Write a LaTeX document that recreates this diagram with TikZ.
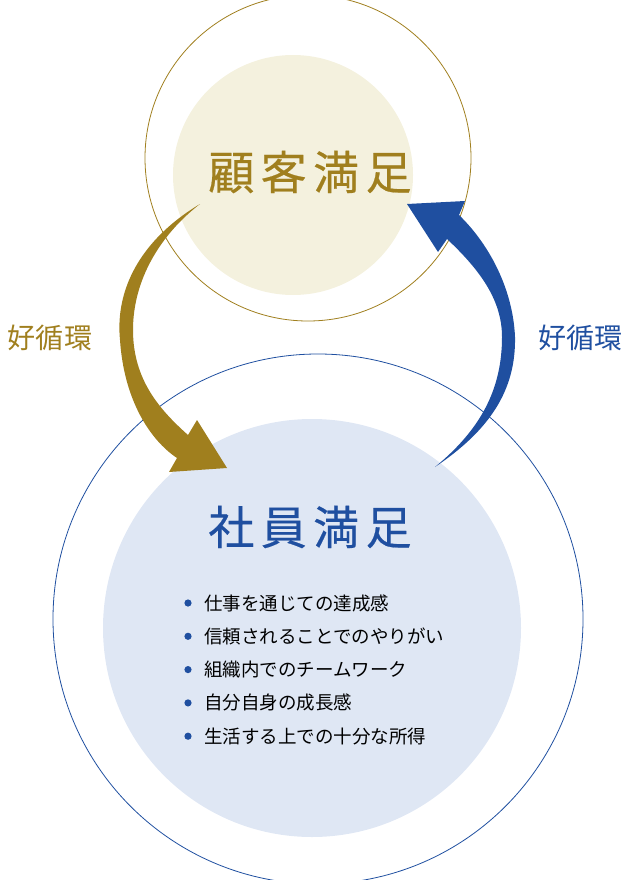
\documentclass[tikz,border=0pt]{standalone}
\usepackage{fontspec}
\setmainfont{Noto Sans CJK JP}
\newfontfamily\titlefont[LetterSpace=14, FakeBold=0.4]{Noto Sans CJK JP}
\usetikzlibrary{calc}
\definecolor{gold}{HTML}{A07F1E}
\definecolor{navy}{HTML}{1F4FA0}
\definecolor{cream}{HTML}{F4F1DE}
\definecolor{pale}{HTML}{DFE7F4}
\tikzset{title/.style={font=\fontsize{46}{46}\titlefont}}
\tikzset{cycle/.style={font=\fontsize{28}{28}\selectfont}}
\tikzset{item/.style={font=\fontsize{18.5}{18.5}\selectfont, anchor=west, inner sep=0pt}}

\begin{document}
\begin{tikzpicture}[x=1pt,y=-1pt]
        \useasboundingbox (0,0) rectangle (631,880);
        % circles
        \fill [pale] (312,628) circle (209);
        \draw [navy, line width=0.8pt] (318,619) circle (265);
        \fill [cream] (293,175) circle (120);
        \draw [gold, line width=0.8pt] (308,158) circle (163);
        % titles
        \node [title, gold] (kokyaku) at (310,172) {顧客満足};
        \node [title, navy] (shain) at (310,527) {社員満足};
        \node [cycle, gold] (left) at (50,338) {好循環};
        \node [cycle, navy] (right) at (580,338) {好循環};
        % arrows
        \fill [gold] (200,204) .. controls (140,240) and (115,290) .. (120,340)
          .. controls (124,400) and (150,440) .. (177,458) -- (169,472) -- (227,468)
          -- (197,420) -- (188,435) .. controls (160,410) and (133,380) .. (133,330)
          .. controls (133,280) and (160,235) .. (200,204) -- cycle;
        \fill [navy] (435,467) .. controls (490,430) and (516,390) .. (515,337)
          .. controls (513,290) and (490,245) .. (459,215) -- (465,201) -- (407,204)
          -- (438,252) -- (447,239) .. controls (480,270) and (502,300) .. (502,337)
          .. controls (502,390) and (480,430) .. (435,467) -- cycle;
        % list
        \foreach \txt [count=\i] in {仕事を通じての達成感, 信頼されることでのやりがい,
            組織内でのチームワーク, 自分自身の成長感, 生活する上での十分な所得} {
          \pgfmathsetmacro{\yy}{603+33.3*(\i-1)}
          \fill [navy] (188,\yy) circle (3.6);
          \node [item] (item\i) at (204,\yy) {\txt};
        }
      \end{tikzpicture}
\end{document}
